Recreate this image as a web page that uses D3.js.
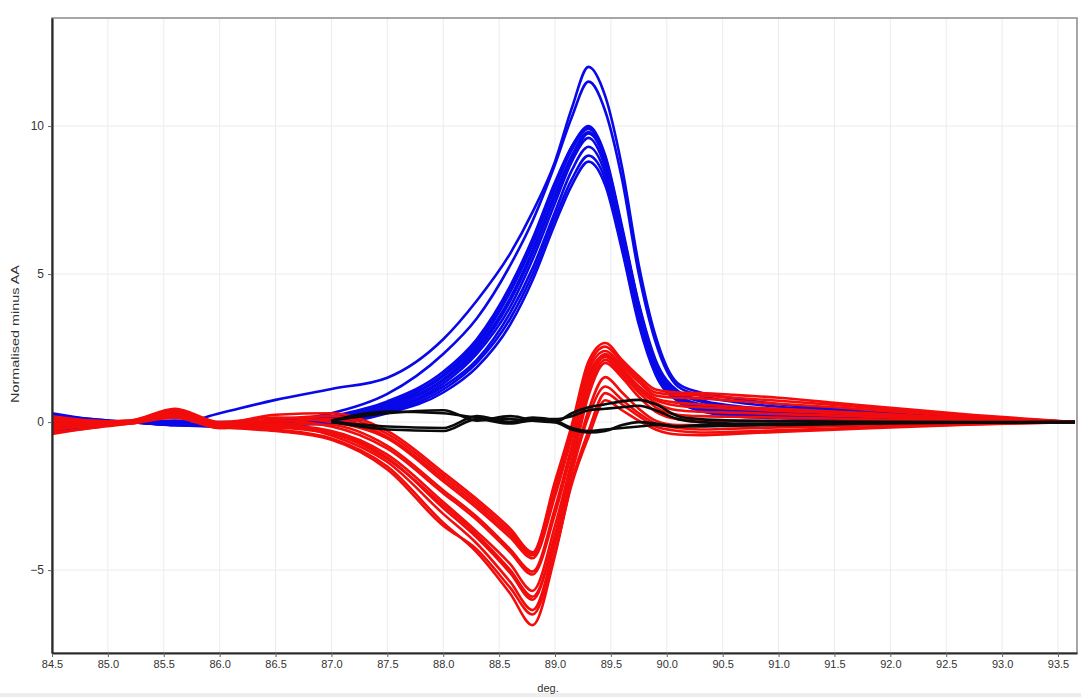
<!DOCTYPE html>
<html>
<head>
<meta charset="utf-8">
<script src="https://cdn.jsdelivr.net/npm/d3@7"></script>
<style>
  body { margin: 0; background: #fff; }
  svg { display: block; font-family: 'Liberation Sans', Arial, sans-serif; }
</style>
</head>
<body>
<script>
'use strict';

var temps = [84.5, 84.85, 85.2, 85.6, 86.0, 86.5, 87.0, 87.5, 88.0, 88.3, 88.6, 88.8, 89.0, 89.15,
  89.3, 89.45, 89.6, 89.75, 89.9, 90.1, 90.3, 90.6, 91.0, 91.5, 92.0, 92.75, 93.65];

var xTicks = [84.5, 85.0, 85.5, 86.0, 86.5, 87.0, 87.5, 88.0, 88.5, 89.0, 89.5, 90.0, 90.5,
  91.0, 91.5, 92.0, 92.5, 93.0, 93.5];
var yTicks = [-5, 0, 5, 10];

//normalised minus AA, one array per sample
var blueCurves = [
  [0.25, 0.1, 0.0, -0.05, 0.3, 0.75, 1.12, 1.5, 2.8, 4.1, 5.7, 7.1, 8.8, 10.6, 12.0, 11.0, 8.6, 5.3, 2.9, 1.3, 1.0, 0.8, 0.6, 0.45, 0.33, 0.18, 0.0],
  [0.15, 0.05, 0.0, 0.05, 0.0, 0.05, 0.3, 0.95, 2.3, 3.5, 5.3, 6.8, 8.7, 10.3, 11.5, 10.5, 8.2, 5.0, 2.7, 1.2, 0.9, 0.68, 0.52, 0.4, 0.3, 0.16, 0.0],
  [0.3, 0.1, 0.0, -0.1, -0.15, -0.05, 0.2, 0.7, 1.7, 2.8, 4.6, 6.2, 8.1, 9.3, 10.0, 9.0, 6.6, 4.0, 2.1, 1.05, 0.75, 0.55, 0.42, 0.32, 0.24, 0.12, 0.0],
  [-0.2, -0.1, 0.0, -0.05, -0.1, -0.1, 0.15, 0.6, 1.55, 2.6, 4.4, 6.0, 7.9, 9.2, 9.9, 8.9, 6.5, 3.9, 2.0, 1.0, 0.7, 0.5, 0.38, 0.3, 0.22, 0.12, 0.0],
  [0.1, 0.05, 0.0, -0.1, -0.05, -0.1, 0.1, 0.55, 1.45, 2.5, 4.2, 5.8, 7.7, 9.0, 9.8, 8.8, 6.4, 3.8, 1.9, 0.9, 0.6, 0.42, 0.33, 0.26, 0.2, 0.1, 0.0],
  [-0.3, -0.15, 0.0, -0.1, -0.15, -0.05, 0.1, 0.5, 1.4, 2.4, 4.1, 5.7, 7.6, 8.9, 9.75, 8.8, 6.3, 3.7, 1.85, 0.85, 0.55, 0.35, 0.27, 0.2, 0.15, 0.08, 0.0],
  [0.0, -0.05, 0.0, -0.05, -0.1, -0.15, 0.05, 0.45, 1.3, 2.3, 3.9, 5.5, 7.4, 8.8, 9.6, 8.6, 6.2, 3.6, 1.75, 0.8, 0.5, 0.3, 0.22, 0.17, 0.12, 0.06, 0.0],
  [-0.1, -0.1, 0.0, -0.1, -0.05, -0.1, 0.05, 0.4, 1.2, 2.1, 3.7, 5.2, 7.1, 8.5, 9.3, 8.4, 6.0, 3.5, 1.7, 0.75, 0.45, 0.25, 0.18, 0.14, 0.1, 0.05, 0.0],
  [0.2, 0.05, 0.0, -0.1, -0.1, -0.05, 0.0, 0.35, 1.1, 2.0, 3.5, 5.0, 6.9, 8.2, 9.0, 8.2, 5.9, 3.4, 1.65, 0.72, 0.4, 0.22, 0.15, 0.1, 0.07, 0.03, 0.0],
  [-0.25, -0.1, 0.0, -0.05, -0.1, -0.1, -0.05, 0.3, 1.0, 1.85, 3.3, 4.8, 6.7, 8.0, 8.8, 8.0, 5.8, 3.3, 1.6, 0.7, 0.38, 0.2, 0.13, 0.09, 0.06, 0.03, 0.0],
  [0.05, 0.0, 0.0, -0.05, -0.1, -0.1, 0.15, 0.65, 1.6, 2.7, 4.5, 6.1, 8.0, 9.3, 9.95, 8.95, 6.5, 3.95, 2.0, 1.0, 0.72, 0.5, 0.4, 0.3, 0.22, 0.11, 0.0]
];

var redCurves = [
  [0.2, 0.05, 0.0, 0.4, -0.05, 0.25, 0.3, -0.3, -1.7, -2.6, -3.6, -4.4, -2.0, -0.1, 2.05, 2.67, 2.1, 1.55, 1.1, 1.0, 0.98, 0.92, 0.82, 0.65, 0.48, 0.24, 0.0],
  [-0.1, -0.05, 0.0, 0.3, -0.1, 0.1, 0.2, -0.4, -1.8, -2.7, -3.7, -4.45, -2.1, -0.2, 1.9, 2.55, 2.0, 1.45, 1.0, 0.92, 0.9, 0.82, 0.72, 0.58, 0.42, 0.2, 0.0],
  [-0.4, -0.2, -0.05, 0.2, -0.15, 0.0, 0.1, -0.5, -1.9, -2.8, -3.8, -4.5, -2.3, -0.35, 1.75, 2.4, 1.9, 1.35, 0.9, 0.82, 0.8, 0.72, 0.62, 0.5, 0.36, 0.17, 0.0],
  [0.0, 0.0, 0.05, 0.45, 0.0, 0.15, 0.0, -0.55, -2.0, -2.9, -3.9, -4.6, -2.5, -0.5, 1.6, 2.25, 1.75, 1.2, 0.8, 0.65, 0.6, 0.52, 0.45, 0.36, 0.26, 0.12, 0.0],
  [-0.3, -0.1, 0.0, 0.25, -0.1, -0.05, -0.1, -0.8, -2.3, -3.2, -4.3, -5.05, -2.9, -0.8, 1.45, 2.3, 1.8, 1.2, 0.75, 0.55, 0.5, 0.45, 0.38, 0.3, 0.22, 0.1, 0.0],
  [0.1, 0.05, 0.0, 0.35, -0.05, 0.05, -0.15, -0.9, -2.4, -3.3, -4.4, -5.15, -3.1, -1.0, 1.3, 2.2, 1.7, 1.1, 0.65, 0.4, 0.35, 0.32, 0.27, 0.22, 0.16, 0.07, 0.0],
  [-0.2, -0.15, -0.05, 0.15, -0.2, -0.1, -0.3, -1.1, -2.7, -3.7, -4.8, -5.7, -3.5, -1.3, 1.1, 2.1, 1.6, 1.0, 0.5, 0.25, 0.2, 0.18, 0.15, 0.12, 0.08, 0.04, 0.0],
  [-0.35, -0.2, 0.0, 0.3, -0.15, -0.15, -0.35, -1.2, -2.9, -3.9, -5.1, -6.0, -3.8, -1.5, 0.9, 2.0, 1.5, 0.85, 0.35, 0.1, 0.05, 0.05, 0.04, 0.03, 0.02, 0.01, 0.0],
  [0.05, 0.0, 0.05, 0.4, -0.05, -0.1, -0.45, -1.35, -3.1, -4.1, -5.4, -6.35, -4.1, -1.7, 0.4, 1.52, 1.0, 0.45, 0.05, -0.1, -0.1, -0.1, -0.08, -0.06, -0.04, -0.02, 0.0],
  [-0.25, -0.1, 0.0, 0.2, -0.2, -0.2, -0.4, -1.25, -2.8, -3.8, -5.0, -5.9, -3.9, -1.7, 0.2, 1.2, 0.75, 0.3, -0.05, -0.2, -0.25, -0.22, -0.18, -0.14, -0.1, -0.05, 0.0],
  [-0.15, -0.05, 0.0, 0.35, -0.1, -0.25, -0.55, -1.5, -3.4, -4.4, -5.8, -6.86, -4.5, -2.0, -0.3, 0.98, 0.6, 0.2, -0.15, -0.3, -0.35, -0.33, -0.28, -0.22, -0.15, -0.07, 0.0],
  [-0.05, -0.1, -0.05, 0.25, -0.15, -0.3, -0.6, -1.6, -3.5, -4.3, -5.6, -6.5, -4.4, -2.1, -0.5, 0.74, 0.4, 0.05, -0.25, -0.42, -0.44, -0.4, -0.33, -0.26, -0.18, -0.08, 0.0]
];

//black curves only show from 87 deg. on, below that they sit under the others
var blackCurves = [
  [null, null, null, null, null, null, 0.05, 0.35, 0.3, 0.15, 0.1, 0.05, 0.0, 0.3, 0.5, 0.6, 0.7, 0.75, 0.6, 0.2, 0.1, 0.05, 0.03, 0.02, 0.01, 0.0, 0.0],
  [null, null, null, null, null, null, 0.05, 0.3, 0.4, 0.05, 0.2, 0.1, 0.1, 0.2, 0.4, 0.45, 0.5, 0.55, 0.4, 0.1, 0.0, -0.05, -0.05, -0.03, -0.02, -0.01, 0.0],
  [null, null, null, null, null, null, 0.0, -0.15, -0.2, 0.2, 0.0, 0.15, 0.05, -0.2, -0.3, -0.25, -0.2, -0.15, -0.1, -0.15, -0.1, -0.1, -0.08, -0.05, -0.03, -0.01, 0.0],
  [null, null, null, null, null, null, 0.0, -0.25, -0.3, 0.1, -0.05, 0.05, 0.0, -0.25, -0.35, -0.3, -0.1, 0.0, -0.05, -0.15, -0.15, -0.12, -0.1, -0.07, -0.04, -0.02, 0.0]
];

var width = 1081;
var height = 697;
var margin = {top: 18, right: 4, bottom: 44, left: 52};

var x = d3.scaleLinear()
  .domain([84.5, 93.67])
  .range([margin.left, width - margin.right]);

var y = d3.scaleLinear()
  .domain([-7.8, 13.65])
  .range([height - margin.bottom, margin.top]);

var svg = d3.select('body').append('svg')
  .attr('width', width)
  .attr('height', height);

svg.append('rect')
  .attr('width', width)
  .attr('height', height)
  .attr('fill', '#fff');

//faint strip along the bottom edge of the screenshot
svg.append('rect')
  .attr('x', 0)
  .attr('y', height - 4)
  .attr('width', width)
  .attr('height', 4)
  .attr('fill', '#ededed');

svg.append('clipPath')
  .attr('id', 'plot-clip')
  .append('rect')
  .attr('x', margin.left)
  .attr('y', margin.top)
  .attr('width', width - margin.left - margin.right)
  .attr('height', height - margin.top - margin.bottom);

//grid
var grid = svg.append('g').attr('class', 'grid');

grid.selectAll('line.vx')
  .data(xTicks)
  .enter().append('line')
  .attr('class', 'vx')
  .attr('x1', function(d) { return x(d); })
  .attr('x2', function(d) { return x(d); })
  .attr('y1', margin.top)
  .attr('y2', height - margin.bottom)
  .attr('stroke', '#ececec')
  .attr('stroke-width', 1);

grid.selectAll('line.hy')
  .data(yTicks)
  .enter().append('line')
  .attr('class', 'hy')
  .attr('x1', margin.left)
  .attr('x2', width - margin.right)
  .attr('y1', function(d) { return y(d); })
  .attr('y2', function(d) { return y(d); })
  .attr('stroke', '#ececec')
  .attr('stroke-width', 1);

//outer frame, top and right are lighter than the axes
svg.append('rect')
  .attr('x', margin.left)
  .attr('y', margin.top)
  .attr('width', width - margin.left - margin.right)
  .attr('height', height - margin.top - margin.bottom)
  .attr('fill', 'none')
  .attr('stroke', '#8a8a8a')
  .attr('stroke-width', 1.5);

var line = d3.line()
  .defined(function(d) { return d !== null; })
  .x(function(d, i) { return x(temps[i]); })
  .y(function(d) { return y(d); })
  .curve(d3.curveMonotoneX);

var curves = svg.append('g').attr('clip-path', 'url(#plot-clip)');

function drawGroup(data, colour, cls) {
  curves.append('g')
    .attr('class', cls)
    .selectAll('path')
    .data(data)
    .enter().append('path')
    .attr('d', line)
    .attr('fill', 'none')
    .attr('stroke', colour)
    .attr('stroke-width', 2.6)
    .attr('stroke-linejoin', 'round');
}

drawGroup(blueCurves, '#0808e8', 'blue');
drawGroup(redCurves, '#f20c0c', 'red');
drawGroup(blackCurves, '#0a0a0a', 'black');

//axes
var xAxis = d3.axisBottom(x)
  .tickValues(xTicks)
  .tickFormat(d3.format('.1f'))
  .tickSizeInner(4)
  .tickSizeOuter(0)
  .tickPadding(3);

var yAxis = d3.axisLeft(y)
  .tickValues(yTicks)
  .tickSizeInner(4)
  .tickSizeOuter(0)
  .tickPadding(4);

var gx = svg.append('g')
  .attr('transform', 'translate(0,' + (height - margin.bottom) + ')')
  .call(xAxis);

var gy = svg.append('g')
  .attr('transform', 'translate(' + margin.left + ',0)')
  .call(yAxis);

[gx, gy].forEach(function(g) {
  g.select('.domain')
    .attr('stroke', '#2a2a2a')
    .attr('stroke-width', 2.2);
  g.selectAll('.tick line')
    .attr('stroke', '#666');
  g.selectAll('.tick text')
    .attr('fill', '#333')
    .style('font-family', "'Liberation Sans', Arial, sans-serif");
});

gx.selectAll('.tick text').style('font-size', '11px');
gy.selectAll('.tick text').style('font-size', '12px');

//axis titles
svg.append('text')
  .attr('x', 548)
  .attr('y', 692)
  .attr('text-anchor', 'middle')
  .attr('fill', '#333')
  .style('font-size', '11px')
  .text('deg.');

//the screenshot is stretched vertically, so the rotated title runs long
svg.append('text')
  .attr('transform', 'translate(19,' + 334 + ')rotate(-90)')
  .attr('text-anchor', 'middle')
  .attr('fill', '#333')
  .attr('textLength', 138)
  .attr('lengthAdjust', 'spacingAndGlyphs')
  .style('font-size', '11px')
  .text('Normalised minus AA');
</script>
</body>
</html>
